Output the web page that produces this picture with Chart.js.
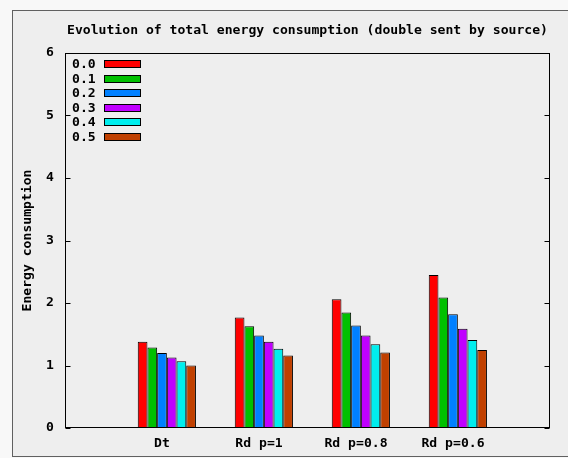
<!DOCTYPE html>
<html>
<head>
<meta charset="utf-8">
<script src="https://cdn.jsdelivr.net/npm/chart.js@4/dist/chart.umd.min.js"></script>
<style>html,body{margin:0;padding:0;background:#f8f8f8;}canvas{display:block;}</style>
</head>
<body>
<canvas id="c" width="568" height="458"></canvas>
<script>
const categories = ['Dt', 'Rd p=1', 'Rd p=0.8', 'Rd p=0.6'];
const seriesNames = ['0.0', '0.1', '0.2', '0.3', '0.4', '0.5'];
const s00 = [1.38, 1.77, 2.06, 2.45];
const s01 = [1.29, 1.63, 1.85, 2.09];
const s02 = [1.20, 1.48, 1.64, 1.82];
const s03 = [1.13, 1.38, 1.48, 1.59];
const s04 = [1.07, 1.27, 1.34, 1.41];
const s05 = [1.00, 1.16, 1.21, 1.25];
const yTicks = [0, 1, 2, 3, 4, 5, 6];
const titleText = 'Evolution of total energy consumption (double sent by source)';
const yTitle = 'Energy consumption';

const colors = ['#ff0000', '#00c000', '#0080ff', '#c000ff', '#00eeee', '#c04000'];
const allSeries = [s00, s01, s02, s03, s04, s05];
const labels = [''].concat(categories, ['']);
const FONT = "'DejaVu Sans Mono', monospace";
const FS = 13.1;

const datasets = [{
  // empty spacer slot so the cluster sits right of the tick label, as in gnuplot
  label: '', spacer: true,
  data: labels.map(() => null),
  backgroundColor: 'rgba(0,0,0,0)', borderWidth: 0,
  categoryPercentage: 0.7, barPercentage: 1.0
}].concat(allSeries.map((s, i) => ({
  label: seriesNames[i],
  data: [null].concat(s, [null]),
  backgroundColor: colors[i],
  borderColor: '#000',
  borderWidth: 1,
  categoryPercentage: 0.7,
  barPercentage: 1.0
})));

const deco = {
  id: 'deco',
  beforeDraw(chart) {
    const ctx = chart.ctx;
    ctx.save();
    ctx.fillStyle = '#f8f8f8';
    ctx.fillRect(0, 0, 568, 458);
    ctx.fillStyle = '#eeeeee';
    ctx.fillRect(12, 10, 600, 447);
    ctx.strokeStyle = '#606060';
    ctx.lineWidth = 1;
    ctx.strokeRect(12.5, 10.5, 600, 446);
    ctx.restore();
  },
  afterDraw(chart) {
    const ctx = chart.ctx;
    const a = chart.chartArea;
    const y = chart.scales.y;
    ctx.save();
    ctx.strokeStyle = '#000';
    ctx.lineWidth = 1;
    const L = Math.round(a.left) + 0.5, R = Math.round(a.right) - 0.5;
    const T = Math.round(a.top) + 0.5, B = Math.round(a.bottom) - 0.5;
    ctx.strokeRect(L, T, R - L, B - T);
    ctx.beginPath();
    y.ticks.forEach(t => {
      const py = Math.round(y.getPixelForValue(t.value)) + 0.5;
      ctx.moveTo(L, py); ctx.lineTo(L + 5, py);
      ctx.moveTo(R, py); ctx.lineTo(R - 5, py);
    });
    ctx.stroke();
    // title
    ctx.fillStyle = '#000';
    ctx.font = "bold " + FS + "px " + FONT;
    ctx.textAlign = 'center';
    ctx.textBaseline = 'middle';
    ctx.fillText(titleText, (a.left + a.right) / 2, 31);
    // legend
    ctx.textAlign = 'left';
    chart.data.datasets.filter(ds => !ds.spacer).forEach((ds, i) => {
      const cy = 64 + i * 14.6;
      ctx.fillStyle = '#000';
      ctx.fillText(ds.label, 72, cy + 0.5);
      ctx.fillStyle = ds.backgroundColor;
      ctx.fillRect(104, Math.round(cy - 4), 37, 8);
      ctx.strokeRect(104.5, Math.round(cy - 4) + 0.5, 36, 7);
    });
    ctx.restore();
  }
};

new Chart(document.getElementById('c'), {
  type: 'bar',
  data: { labels: labels, datasets: datasets },
  plugins: [deco],
  options: {
    responsive: false,
    devicePixelRatio: 1,
    animation: false,
    layout: { padding: { top: 53, right: 18, bottom: 0, left: 0 } },
    plugins: { legend: { display: false }, title: { display: false }, tooltip: { enabled: false } },
    scales: {
      x: {
        type: 'category',
        offset: false,
        grid: { display: false, drawTicks: false },
        border: { display: false },
        ticks: { color: '#000', font: { family: FONT, size: FS, weight: 'bold' }, padding: 8, maxRotation: 0, autoSkip: false },
        afterFit(s) { s.height = 30; }
      },
      y: {
        min: 0, max: 6,
        grid: { display: false, drawTicks: false },
        border: { display: false },
        afterBuildTicks(s) { s.ticks = yTicks.map(v => ({ value: v })); },
        ticks: { color: '#000', font: { family: FONT, size: FS, weight: 'bold' }, padding: 11 },
        title: { display: true, text: yTitle, color: '#000', font: { family: FONT, size: FS, weight: 'bold' }, padding: { top: 20, bottom: 0 } },
        afterFit(s) { s.width = 65; }
      }
    }
  }
});
</script>
</body>
</html>
